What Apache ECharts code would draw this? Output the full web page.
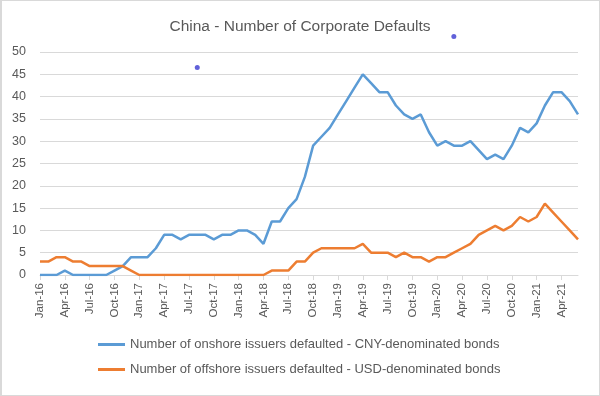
<!DOCTYPE html>
<html><head><meta charset="utf-8">
<script src="https://cdn.jsdelivr.net/npm/echarts@6/dist/echarts.min.js"></script>
<style>
html,body{margin:0;padding:0;background:#fff}
#wrap{position:relative;width:600px;height:396px}
#c{position:absolute;left:0;top:0;width:600px;height:396px}
#frame{position:absolute;left:0;top:0;width:600px;height:396px;box-sizing:border-box;border:1px solid #d9d9d9;border-left:2px solid #d9d9d9;pointer-events:none}
</style>
</head><body><div id="wrap"><div id="c"></div><div id="frame"></div></div>
<script>
const months = [
  'Jan-16','Feb-16','Mar-16','Apr-16','May-16','Jun-16','Jul-16','Aug-16','Sep-16','Oct-16','Nov-16','Dec-16',
  'Jan-17','Feb-17','Mar-17','Apr-17','May-17','Jun-17','Jul-17','Aug-17','Sep-17','Oct-17','Nov-17','Dec-17',
  'Jan-18','Feb-18','Mar-18','Apr-18','May-18','Jun-18','Jul-18','Aug-18','Sep-18','Oct-18','Nov-18','Dec-18',
  'Jan-19','Feb-19','Mar-19','Apr-19','May-19','Jun-19','Jul-19','Aug-19','Sep-19','Oct-19','Nov-19','Dec-19',
  'Jan-20','Feb-20','Mar-20','Apr-20','May-20','Jun-20','Jul-20','Aug-20','Sep-20','Oct-20','Nov-20','Dec-20',
  'Jan-21','Feb-21','Mar-21','Apr-21','May-21','Jun-21'
];
const onshoreCNY = [
  0,0,0,1,0,0,0,0,0,1,2,4,
  4,4,6,9,9,8,9,9,9,8,9,9,
  10,10,9,7,12,12,15,17,22,29,31,33,
  36,39,42,45,43,41,41,38,36,35,36,32,
  29,30,29,29,30,28,26,27,26,29,33,32,
  34,38,41,41,39,36
];
const offshoreUSD = [
  3,3,4,4,3,3,2,2,2,2,2,1,
  0,0,0,0,0,0,0,0,0,0,0,0,
  0,0,0,0,1,1,1,3,3,5,6,6,
  6,6,6,7,5,5,5,4,5,4,4,3,
  4,4,5,6,7,9,10,11,10,11,13,12,
  13,16,14,12,10,8
];
const strayDotMonths = ['Aug-17','Mar-20'];
const strayDotValues = [46.5, 53.5];
const seriesNames = [
  'Number of onshore issuers defaulted - CNY-denominated bonds',
  'Number of offshore issuers defaulted - USD-denominated bonds'
];
const titleText = 'China - Number of Corporate Defaults';

const FONT = 'Liberation Sans';
const TXT = '#595959';
const chart = echarts.init(document.getElementById('c'), null, {renderer:'canvas'});
chart.setOption({
  animation:false,
  textStyle:{fontFamily:FONT},
  title:{text:titleText,left:'center',top:14,textStyle:{fontFamily:FONT,fontSize:15.5,fontWeight:'normal',color:TXT}},
  grid:{left:40,right:22,top:52,bottom:121,containLabel:false},
  legend:{
    data:seriesNames,orient:'vertical',left:93,top:333,itemGap:12,
    itemWidth:27,itemHeight:3,icon:'rect',
    textStyle:{fontFamily:FONT,fontSize:13,color:TXT}
  },
  xAxis:{
    type:'category',data:months,boundaryGap:false,
    axisLine:{lineStyle:{color:'#d9d9d9',width:1}},
    axisTick:{show:true,interval:2,length:5,lineStyle:{color:'#d9d9d9'}},
    axisLabel:{interval:2,rotate:90,margin:8,fontFamily:FONT,fontSize:11.5,color:TXT},
    splitLine:{show:false}
  },
  yAxis:{
    type:'value',min:0,max:50,interval:5,
    axisLine:{show:false},axisTick:{show:false},
    axisLabel:{margin:14,fontFamily:FONT,fontSize:12.5,color:TXT},
    splitLine:{lineStyle:{color:'#d9d9d9',width:1}}
  },
  series:[
    {name:seriesNames[0],type:'line',data:onshoreCNY,showSymbol:false,symbol:'none',
     lineStyle:{color:'#5b9bd5',width:2.5},itemStyle:{color:'#5b9bd5'}},
    {name:seriesNames[1],type:'line',data:offshoreUSD,showSymbol:false,symbol:'none',
     lineStyle:{color:'#ed7d31',width:2.5},itemStyle:{color:'#ed7d31'}},
    {name:'dots',type:'scatter',clip:false,symbolSize:5,
     data:strayDotMonths.map((m,i)=>[m,strayDotValues[i]]),
     itemStyle:{color:'#3a3ad0'}}
  ]
});
</script>
</body></html>
